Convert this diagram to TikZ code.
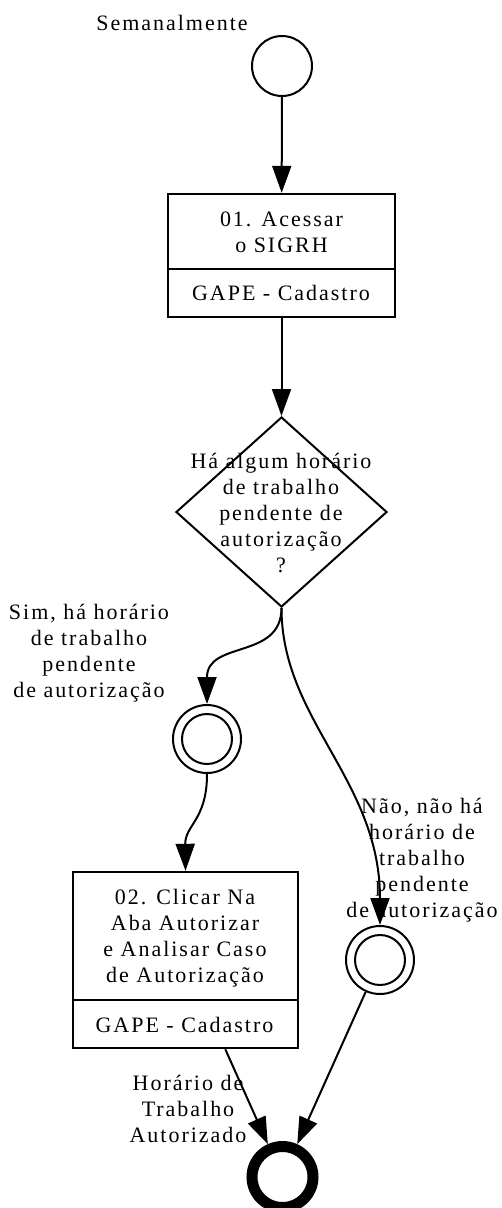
\documentclass[tikz,border=0pt]{standalone}
\usepackage{fontspec}
\setmainfont{Liberation Serif}[LetterSpace=9]
\usetikzlibrary{shapes.geometric,arrows.meta}
\newcommand\ml[1]{\vbox{\baselineskip=26pt\lineskiplimit=-100pt\halign{\hfil##\hfil\cr#1\crcr}}}
\begin{document}
\begin{tikzpicture}[x=1pt,y=-1pt,
  txt/.style={inner sep=0pt, anchor=base, font=\fontsize{22}{26}\selectfont},
  evstart/.style={circle, draw, line width=2pt, minimum size=60pt, inner sep=0pt},
  inter/.style={circle, draw, line width=2pt, minimum size=68pt, inner sep=0pt},
  evend/.style={circle, draw, line width=11pt, minimum size=61pt, inner sep=0pt},
  task/.style={rectangle, draw, line width=2.4pt, inner sep=0pt},
  gw/.style={diamond, draw, line width=2pt, inner sep=0pt},
  divider/.style={line width=2.4pt},
  edge/.style={line width=2pt, -{Triangle[length=27pt,width=19pt]}}]
\useasboundingbox (0,0) rectangle (501,1208);
% nodes
\node[evstart] (s) at (282,66) {};
\node[txt] (lsem) at (172,30) {Semanalmente};
\node[task, minimum width=227pt, minimum height=123pt] (t1) at (281.5,255.5) {};
\draw[divider] (t1.west |- 0,269) -- (t1.east |- 0,269);
\node[txt] (t1a) at (281.5,252) {\ml{01. Acessar\cr o SIGRH}};
\node[txt] (t1b) at (281,300) {GAPE - Cadastro};
\node[gw, minimum width=211pt, minimum height=190pt] (d) at (281.5,512) {};
\node[txt] (dq) at (281,572) {\ml{Há algum horário\cr de trabalho\cr pendente de\cr autorização\cr ?}};
\node[inter] (c1) at (207,739) {};
\draw[line width=2pt] (c1.center) circle[radius=25pt];
\node[txt] (lsim) at (89,697) {\ml{Sim, há horário\cr de trabalho\cr pendente\cr de autorização}};
\node[task, minimum width=225pt, minimum height=176pt] (t2) at (185.5,960) {};
\draw[divider] (t2.west |- 0,1000) -- (t2.east |- 0,1000);
\node[txt] (t2a) at (185,982) {\ml{02. Clicar Na\cr Aba Autorizar\cr e Analisar Caso\cr de Autorização}};
\node[txt] (t2b) at (184.5,1032) {GAPE - Cadastro};
\node[inter] (c2) at (380,960) {};
\draw[line width=2pt] (c2.center) circle[radius=25pt];
\node[txt] (lnao) at (422,917) {\ml{Não, não há\cr horário de\cr trabalho\cr pendente\cr de autorização}};
\node[evend] (e) at (282.5,1177) {};
\node[txt] (lhor) at (188,1142) {\ml{Horário de\cr Trabalho\cr Autorizado}};
% connectors
\draw[edge] (s) -- (t1);
\draw[edge] (t1) -- (d);
\draw[edge] (d.south) .. controls (281.5,660) and (207,640) .. (c1.north);
\draw[edge] (d.south) .. controls (281.5,720) and (380,780) .. (c2.north);
\draw[edge] (c1.south) .. controls (207,820) and (185,825) .. (t2.north);
\draw[edge] (t2) -- (e);
\draw[edge] (c2) -- (e);
\end{tikzpicture}
\end{document}
